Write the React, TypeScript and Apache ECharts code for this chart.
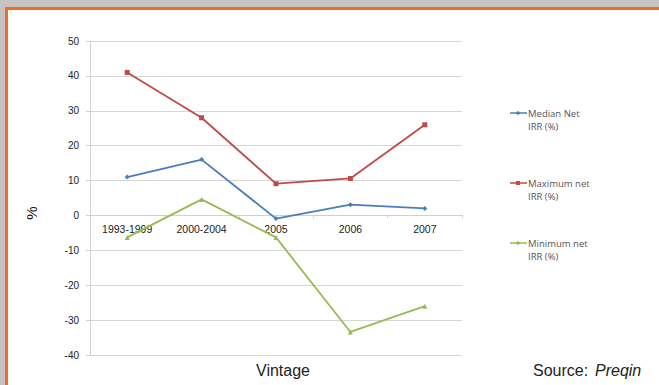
import React, { useEffect, useRef } from "react";
import * as echarts from "echarts";

const categories = ["1993-1999", "2000-2004", "2005", "2006", "2007"];
const medianNet = [11, 16, -0.9, 3.1, 2];
const maximumNet = [41, 28, 9.1, 10.6, 26];
const minimumNet = [-6.3, 4.6, -6.3, -33.4, -26];
const seriesNames = ["Median Net\nIRR (%)", "Maximum net\nIRR (%)", "Minimum net\nIRR (%)"];
const seriesColors = ["#4a7ebb", "#be4b48", "#98b954"];
const seriesSymbols = ["diamond", "rect", "triangle"];
const yTicks = { min: -40, max: 50, interval: 10 };

export default function App() {
  const ref = useRef<HTMLDivElement>(null);
  useEffect(() => {
    if (!ref.current) return;
    const chart = echarts.init(ref.current, null, { renderer: "svg" });
    const data = [medianNet, maximumNet, minimumNet];
    const legendY = [113, 183, 243];
    const legendGraphics: any[] = [];
    seriesNames.forEach((name, i) => {
      legendGraphics.push({
        type: "line",
        shape: { x1: 510, y1: legendY[i], x2: 527, y2: legendY[i] },
        style: { stroke: seriesColors[i], lineWidth: 1.5 },
      });
      legendGraphics.push({
        type: i === 1 ? "rect" : "circle",
        shape: i === 1 ? { x: 516, y: legendY[i] - 2, width: 4, height: 4 } : { cx: 518, cy: legendY[i], r: 1.8 },
        style: { fill: seriesColors[i] },
      });
      legendGraphics.push({
        type: "text",
        x: 528,
        y: legendY[i] - 6,
        style: {
          text: name,
          fill: "#555",
          font: "9.5px 'Open Sans', sans-serif",
          lineHeight: 13,
          textVerticalAlign: "top",
        },
      });
    });
    chart.setOption({
      animation: false,
      backgroundColor: "transparent",
      grid: { left: 90, right: 197, top: 41, bottom: 30, containLabel: false },
      xAxis: {
        type: "category",
        data: categories,
        boundaryGap: true,
        position: "bottom",
        offset: -140,
        axisLine: { onZero: false, lineStyle: { color: "#d0d0d0", width: 1 } },
        axisTick: { show: true, length: 3, lineStyle: { color: "#d0d0d0" } },
        axisLabel: { color: "#222", fontSize: 10.5, fontFamily: "'Liberation Sans', Arial, sans-serif", margin: 8 },
        splitLine: { show: false },
      },
      yAxis: {
        type: "value",
        min: yTicks.min,
        max: yTicks.max,
        interval: yTicks.interval,
        axisLine: { show: true, lineStyle: { color: "#d0d0d0" } },
        axisTick: { show: true, length: 4, lineStyle: { color: "#d0d0d0" } },
        axisLabel: { color: "#222", fontSize: 10, fontFamily: "'Liberation Sans', Arial, sans-serif", margin: 11 },
        splitLine: { show: true, lineStyle: { color: "#d6d6d6", width: 1 } },
      },
      series: data.map((d, i) => ({
        name: seriesNames[i],
        type: "line",
        data: d,
        symbol: seriesSymbols[i],
        symbolSize: 5,
        itemStyle: { color: seriesColors[i] },
        lineStyle: { color: seriesColors[i], width: 1.8 },
      })),
      graphic: [
        {
          type: "text",
          x: 31,
          y: 213,
          rotation: Math.PI / 2,
          style: {
            text: "%",
            fill: "#111",
            font: "15px 'Liberation Sans', Arial, sans-serif",
            textAlign: "center",
            textVerticalAlign: "middle",
          },
        },
        {
          type: "text",
          x: 283,
          y: 370,
          style: {
            text: "Vintage",
            fill: "#222",
            font: "16px 'Liberation Sans', Arial, sans-serif",
            textAlign: "center",
            textVerticalAlign: "middle",
          },
        },
        {
          type: "text",
          x: 533,
          y: 370,
          style: {
            text: "Source:",
            fill: "#222",
            font: "16px 'Liberation Sans', Arial, sans-serif",
            textAlign: "left",
            textVerticalAlign: "middle",
          },
        },
        {
          type: "text",
          x: 595,
          y: 370,
          style: {
            text: "Preqin",
            fill: "#222",
            font: "italic 16px 'Liberation Sans', Arial, sans-serif",
            textAlign: "left",
            textVerticalAlign: "middle",
          },
        },
        ...legendGraphics,
      ],
    });
    return () => chart.dispose();
  }, []);
  return (
    <div style={{ position: "fixed", left: 0, top: 0, width: 659, height: 385, background: "#c4c4c4", overflow: "hidden" }}>
      <div
        style={{
          position: "absolute",
          left: 5,
          top: 7,
          width: 700,
          height: 420,
          border: "3px solid #f26d24",
          background: "#ffffff",
        }}
      />
      <div ref={ref} style={{ position: "absolute", left: 0, top: 0, width: 659, height: 385 }} />
    </div>
  );
}
